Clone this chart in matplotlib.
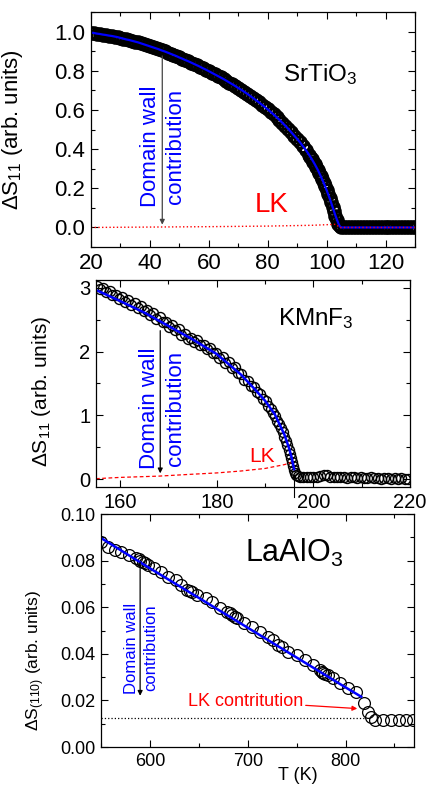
import matplotlib
matplotlib.use('Agg')
import matplotlib.pyplot as plt
from matplotlib.ticker import MultipleLocator, FormatStrFormatter

plt.rcParams['font.family'] = ['Liberation Sans', 'DejaVu Sans']
plt.rcParams['mathtext.fontset'] = 'custom'
plt.rcParams['mathtext.rm'] = 'Liberation Sans'
plt.rcParams['mathtext.it'] = 'Liberation Sans:italic'
plt.rcParams['axes.linewidth'] = 0.9

# ---- SrTiO3 ----
T_sto = [20, 21, 22, 23, 24, 25, 26, 27, 28, 29, 30, 31, 32, 33, 34, 35, 36, 37, 38, 39,
         40, 41, 42, 43, 44, 45, 46, 47, 48, 49, 50, 51, 52, 53, 54, 55, 56, 57, 58, 59,
         60, 61, 62, 63, 64, 65, 66, 67, 68, 69, 70, 71, 72, 73, 74, 75, 76, 77, 78, 79,
         80, 81, 82, 83, 84, 85, 86, 87, 88, 89, 90, 91, 92, 93, 94, 94.5, 95, 95.5, 96,
         96.5, 97, 97.5, 98, 98.5, 99, 99.5, 100, 100.5, 101, 101.5, 102, 102.5, 103, 103.5,
         104, 104.5, 105, 106, 107, 108, 109, 110, 111, 112, 113, 114, 115,
         116, 117, 118, 119, 120, 121, 122, 123, 124, 125, 126, 127, 128, 129, 130]
S_sto = [0.995, 0.993, 0.99, 0.988, 0.985, 0.983, 0.98, 0.978, 0.975, 0.972,
         0.968, 0.964, 0.96, 0.957, 0.953, 0.949, 0.945, 0.94, 0.935, 0.93,
         0.925, 0.92, 0.915, 0.91, 0.904, 0.899, 0.893, 0.887, 0.881, 0.875,
         0.868, 0.862, 0.855, 0.849, 0.842, 0.835, 0.828, 0.821, 0.813, 0.806,
         0.798, 0.79, 0.782, 0.774, 0.766, 0.758, 0.749, 0.74, 0.731, 0.722,
         0.712, 0.703, 0.693, 0.683, 0.672, 0.661, 0.650, 0.639, 0.627, 0.615,
         0.603, 0.59, 0.577, 0.563, 0.549, 0.534, 0.519, 0.503, 0.486, 0.469,
         0.452, 0.434, 0.414, 0.394, 0.372, 0.36, 0.348, 0.335, 0.322,
         0.308, 0.294, 0.278, 0.262, 0.245, 0.228, 0.21, 0.19, 0.17, 0.15, 0.128,
         0.105, 0.083, 0.06, 0.04, 0.02, 0.005,
         0.0, 0.0, 0.0, 0.0, 0.0, 0.0, 0.0, 0.0, 0.0, 0.0, 0.0, 0.0, 0.0,
         0.0, 0.0, 0.0, 0.0, 0.0, 0.0, 0.0, 0.0, 0.0, 0.0, 0.0, 0.0, 0.0]
T_sto_lk = [20, 40, 60, 80, 95, 103, 104.5, 130]
S_sto_lk = [0.0, 0.002, 0.004, 0.007, 0.011, 0.016, 0.0, 0.0]

# ---- KMnF3 ----
T_kmf = [155.2, 155.8, 156.5, 157.1, 157.8, 158.4, 159.1, 159.7, 160.4, 161.0, 161.7, 162.3,
         163.0, 163.6, 164.3, 164.9, 165.6, 166.2, 166.9, 167.5, 168.2, 168.8, 169.5, 170.1,
         170.8, 171.4, 172.1, 172.7, 173.4, 174.0, 174.7, 175.3, 176.0, 176.6, 177.3, 177.9,
         178.6, 179.2, 179.9, 180.5, 181.2, 181.8, 182.5, 183.1, 183.8, 184.4, 185.1, 185.7,
         186.4, 187.0, 187.7, 188.3, 189.0, 189.6, 190.2, 190.7, 191.2, 191.7, 192.1, 192.5,
         192.9, 193.3, 193.7, 194.0, 194.3, 194.6, 194.9, 195.1, 195.3, 195.5, 195.7, 195.9,
         196.1, 196.4, 196.8, 197.3, 197.9, 198.6, 199.3, 200.0, 200.7, 201.4, 202.1, 202.8,
         203.5, 204.2, 204.9, 205.6, 206.3, 207.0, 207.7, 208.4, 209.1, 209.8, 210.5, 211.2,
         211.9, 212.6, 213.3, 214.0, 214.7, 215.4, 216.1, 216.8, 217.5, 218.2, 218.9, 219.6]
S_kmf = [3.03, 2.98, 2.99, 2.93, 2.94, 2.88, 2.89, 2.83, 2.85, 2.78, 2.80, 2.73, 2.76, 2.68,
         2.71, 2.63, 2.65, 2.57, 2.60, 2.51, 2.54, 2.46, 2.47, 2.39, 2.41, 2.33, 2.35, 2.26,
         2.28, 2.19, 2.21, 2.15, 2.18, 2.10, 2.11, 2.04, 2.05, 1.97, 1.98, 1.90, 1.91, 1.82,
         1.84, 1.74, 1.76, 1.66, 1.65, 1.56, 1.54, 1.46, 1.44, 1.36, 1.33, 1.26, 1.22, 1.15,
         1.10, 1.04, 0.99, 0.92, 0.87, 0.80, 0.74, 0.67, 0.60, 0.53, 0.46, 0.40, 0.34, 0.27,
         0.21, 0.15, 0.10, 0.07, 0.05, 0.04, 0.04, 0.03, 0.04, 0.03, 0.04, 0.05, 0.07, 0.06,
         0.04, 0.04, 0.03, 0.04, 0.03, 0.02, 0.03, 0.03, 0.02, 0.03, 0.02, 0.02, 0.03, 0.02,
         0.02, 0.01, 0.02, 0.02, 0.01, 0.02, 0.01, 0.02, 0.01, 0.01]
T_kmf_fit = [155.4, 160, 165, 170, 175, 180, 185, 188, 190, 192, 194, 195, 195.5, 196]
S_kmf_fit = [2.95, 2.79, 2.61, 2.40, 2.19, 1.96, 1.64, 1.40, 1.23, 1.02, 0.70, 0.48, 0.34, 0.16]
T_kmf_lk = [155, 160, 168, 175, 180, 185, 190, 194, 195.3]
S_kmf_lk = [0.01, 0.03, 0.05, 0.08, 0.10, 0.13, 0.17, 0.23, 0.26]

# ---- LaAlO3 ----
T_lao = [550.3, 557, 563.8, 570.6, 579, 585.8, 588.5, 590.2, 592.6, 594.8, 597.7, 604.4, 611,
         618, 626.4, 631.5, 638.3, 641.0, 643.4, 648.4, 656.9, 663.7, 672, 678.9, 681.5, 684,
         686.5, 689, 695.7, 704.3, 712.7, 721.1, 726.2, 731.3, 734.7, 741.4, 749.9, 758.4,
         766.8, 773.6, 775.5, 777, 779.5, 782, 787.1, 793.9, 802.3, 810.9, 819.3, 822.7,
         826.1, 830.5, 838, 846, 855, 862, 869]
S_lao = [0.0881, 0.0860, 0.0845, 0.0838, 0.0824, 0.0810, 0.0806, 0.0800, 0.0795, 0.0790,
         0.0781, 0.0767, 0.0752, 0.0731, 0.0717, 0.0695, 0.0674, 0.0670, 0.0667, 0.0652,
         0.0638, 0.0624, 0.0595, 0.0581, 0.0576, 0.0567, 0.0560, 0.0552, 0.0531, 0.0514,
         0.0495, 0.0473, 0.0459, 0.0438, 0.0430, 0.0409, 0.0395, 0.0373, 0.0352, 0.0330,
         0.0322, 0.0316, 0.0312, 0.0309, 0.0295, 0.0273, 0.0252, 0.0237, 0.0188, 0.0152,
         0.0130, 0.0118, 0.0118, 0.0117, 0.0118, 0.0118, 0.0118]
T_lao_fit = [550, 600, 650, 700, 750, 800, 816]
S_lao_fit = [0.0897, 0.0767, 0.0640, 0.0512, 0.0384, 0.0256, 0.0216]
T_lao_lk = [550, 820]
S_lao_lk = [0.0123, 0.0123]

blue = '#0000ff'
red = '#ff0000'

fig = plt.figure(figsize=(4.28, 7.88), dpi=100)


def style(ax, fs):
    ax.tick_params(which='both', direction='in', top=True, right=True, labelsize=fs, pad=4)
    ax.tick_params(which='major', length=5, width=0.8)
    ax.tick_params(which='minor', length=3, width=0.8)


# panel 1
ax1 = fig.add_axes([0.2126, 0.6865, 0.757, 0.2982])
ax1.plot(T_sto, S_sto, 'o', ms=8.5, mfc='none', mec='black', mew=2.0)
ax1.plot(T_sto, S_sto, '-', color=blue, lw=1.6)
ax1.plot(T_sto_lk, S_sto_lk, ':', color=red, lw=1.0)
ax1.annotate('', xy=(44.2, 0.0), xytext=(44.2, 0.89),
             arrowprops=dict(arrowstyle='-|>', color='#444444', lw=0.9, mutation_scale=7))
ax1.text(44.4, 0.413, 'Domain wall\ncontribution', rotation=90, color=blue, fontsize=16,
         ha='center', va='center', linespacing=1.25)
ax1.text(81.5, 0.113, 'LK', color=red, fontsize=20, ha='center', va='center')
ax1.text(85.3, 0.745, 'SrTiO$_3$', fontsize=17.5, ha='left', va='baseline')
ax1.set_xlim(20, 130)
ax1.set_ylim(-0.1, 1.1)
ax1.xaxis.set_major_locator(MultipleLocator(20))
ax1.xaxis.set_minor_locator(MultipleLocator(10))
ax1.yaxis.set_major_locator(MultipleLocator(0.2))
ax1.yaxis.set_minor_locator(MultipleLocator(0.1))
ax1.yaxis.set_major_formatter(FormatStrFormatter('%.1f'))
style(ax1, 16)
ax1.set_ylabel('ΔS$_{11}$ (arb. units)', fontsize=16)
ax1.yaxis.set_label_coords(-0.204, 0.5)

# panel 2
ax2 = fig.add_axes([0.2243, 0.382, 0.7336, 0.2627])
ax2.plot(T_kmf, S_kmf, 'o', ms=7.2, mfc='none', mec='black', mew=1.0)
ax2.plot(T_kmf_fit, S_kmf_fit, '-', color=blue, lw=1.8)
ax2.plot(T_kmf_lk, S_kmf_lk, '--', color=red, lw=0.9, dashes=(3, 2))
ax2.plot([196, 196], [0.05, -0.28], '-', color='black', lw=0.8, clip_on=False)
ax2.annotate('', xy=(168.3, 0.05), xytext=(168.3, 2.37),
             arrowprops=dict(arrowstyle='-|>', color='black', lw=0.9, mutation_scale=7))
ax2.text(168.7, 1.11, 'Domain wall\ncontribution', rotation=90, color=blue, fontsize=16,
         ha='center', va='center', linespacing=1.3)
ax2.text(189.3, 0.35, 'LK', color=red, fontsize=15, ha='center', va='center')
ax2.text(192.6, 2.42, 'KMnF$_3$', fontsize=17.5, ha='left', va='baseline')
ax2.set_xlim(155, 220)
ax2.set_ylim(-0.12, 3.12)
ax2.xaxis.set_major_locator(MultipleLocator(20))
ax2.xaxis.set_minor_locator(MultipleLocator(10))
ax2.yaxis.set_major_locator(MultipleLocator(1))
ax2.yaxis.set_minor_locator(MultipleLocator(0.5))
style(ax2, 14.5)
ax2.set_ylabel('ΔS$_{11}$ (arb. units)', fontsize=15)
ax2.yaxis.set_label_coords(-0.137, 0.46)

# panel 3
ax3 = fig.add_axes([0.236, 0.052, 0.7313, 0.2957])
ax3.plot(T_lao, S_lao, 'o', ms=8.5, mfc='none', mec='black', mew=0.9)
ax3.plot(T_lao_fit, S_lao_fit, '-', color=blue, lw=1.8)
ax3.plot(T_lao_lk, S_lao_lk, ':', color='black', lw=0.9)
ax3.annotate('', xy=(590, 0.0208), xytext=(590, 0.0804),
             arrowprops=dict(arrowstyle='-|>', color='black', lw=0.9, mutation_scale=7))
ax3.text(591.4, 0.0425, 'Domain wall\ncontribution', rotation=90, color=blue, fontsize=12,
         ha='center', va='center', linespacing=1.35)
ax3.annotate('LK contritution', xy=(812, 0.0165), xytext=(638.6, 0.0195),
             color=red, fontsize=13, ha='left', va='center',
             arrowprops=dict(arrowstyle='-|>', color=red, lw=0.9, mutation_scale=7,
                             shrinkA=0, shrinkB=0))
ax3.text(697.5, 0.0795, 'LaAlO$_3$', fontsize=22, ha='left', va='baseline')
ax3.set_xlim(550, 870)
ax3.set_ylim(0, 0.1)
ax3.xaxis.set_major_locator(MultipleLocator(100))
ax3.xaxis.set_minor_locator(MultipleLocator(50))
ax3.yaxis.set_major_locator(MultipleLocator(0.02))
ax3.yaxis.set_minor_locator(MultipleLocator(0.01))
ax3.yaxis.set_major_formatter(FormatStrFormatter('%.2f'))
style(ax3, 13)
ax3.set_ylabel('ΔS$_{(110)}$ (arb. units)', fontsize=12.5)
ax3.yaxis.set_label_coords(-0.173, 0.373)
ax3.set_xlabel('T (K)', fontsize=13)
ax3.xaxis.set_label_coords(0.63, -0.085)

fig.savefig('out.png', dpi=100)
